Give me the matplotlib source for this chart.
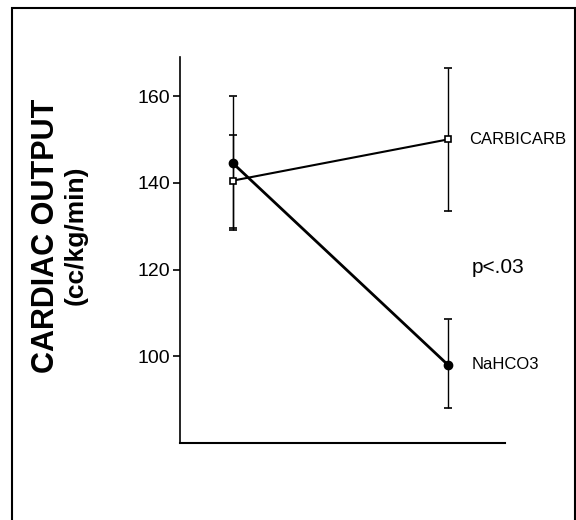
import matplotlib.pyplot as plt
from matplotlib.patches import Rectangle

# Datos
x = [0, 1]
carbicarb = [140.5, 150]
carbicarb_lo = [129.5, 133.5]
carbicarb_hi = [151, 166.5]
nahco3 = [144.5, 98]
nahco3_lo = [129, 88]
nahco3_hi = [160, 108.5]
yticks = [100, 120, 140, 160]

fuente = 'Liberation Sans'

fig = plt.figure(figsize=(5.76, 5.2), dpi=100)
ax = fig.add_axes([180 / 576, 1 - 443 / 520, 325 / 576, 386 / 520])

# Marco alrededor de la figura
fig.patches.append(Rectangle((12 / 576, -0.1), 1 - 13 / 576, 1.1 - 8 / 520,
                             transform=fig.transFigure, fill=False,
                             edgecolor='black', linewidth=1.5))

err_c = [[c - l for c, l in zip(carbicarb, carbicarb_lo)],
         [h - c for c, h in zip(carbicarb, carbicarb_hi)]]
err_n = [[c - l for c, l in zip(nahco3, nahco3_lo)],
         [h - c for c, h in zip(nahco3, nahco3_hi)]]

ax.errorbar(x, nahco3, yerr=err_n, color='black', lw=2, elinewidth=1,
            capsize=3, capthick=1.2, marker='o', ms=6, mfc='black')
ax.errorbar(x, carbicarb, yerr=err_c, color='black', lw=1.5, elinewidth=1,
            capsize=3, capthick=1.2, marker='s', ms=5, mfc='white', mew=1.2)

ax.set_xlim(-0.246, 1.265)
ax.set_ylim(80, 169)
ax.set_xticks([])
ax.set_yticks(yticks)
ax.set_yticklabels([str(v) for v in yticks], family=fuente, fontsize=14)
ax.tick_params(axis='y', length=5, width=1.2, pad=2)
for lado in ['top', 'right']:
    ax.spines[lado].set_visible(False)
ax.spines['left'].set_linewidth(1.2)
ax.spines['bottom'].set_linewidth(1.5)

ax.text(1.1, carbicarb[1], 'CARBICARB', family=fuente, fontsize=12, va='center')
ax.text(1.11, 120.5, 'p<.03', family=fuente, fontsize=15, va='center')
ax.text(1.11, nahco3[1], 'NaHCO3', family=fuente, fontsize=12, va='center')

fig.text(46 / 576, 1 - 236 / 520, 'CARDIAC OUTPUT', rotation=90, ha='center',
         va='center', fontsize=22, fontweight='bold', family=fuente)
fig.text(76 / 576, 1 - 235 / 520, '(cc/kg/min)', rotation=90, ha='center',
         va='center', fontsize=19, fontweight='bold', family=fuente)

fig.savefig('out.png', dpi=100)
